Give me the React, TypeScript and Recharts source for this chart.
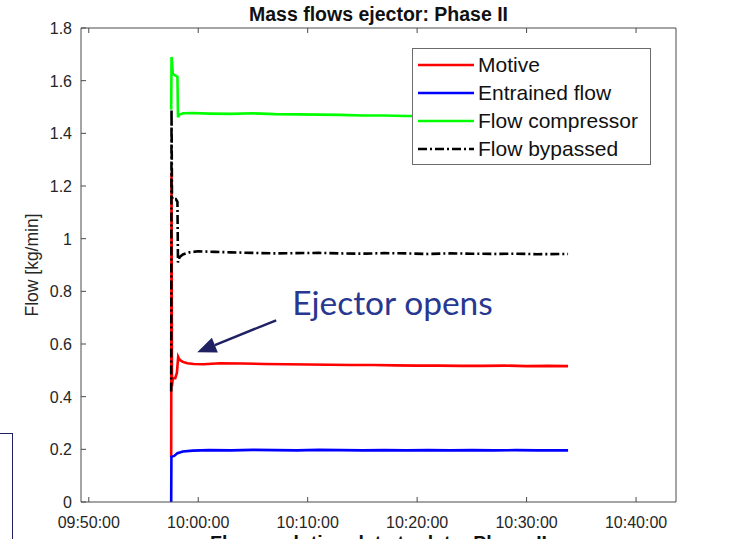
import { LineChart, Line, XAxis, YAxis, Legend, ReferenceLine } from "recharts";

// time axis is minutes after 09:50:00
const X_TICKS = [0, 10, 20, 30, 40, 50];
const Y_TICKS = [0, 0.2, 0.4, 0.6, 0.8, 1, 1.2, 1.4, 1.6, 1.8];

const motiveT = [7.53, 7.56, 7.6, 7.68, 7.9, 8.05, 8.17, 8.3, 8.6, 9.0, 9.6, 10.5, 12, 14, 16, 18, 20, 22, 24, 26, 28, 30, 32, 34, 36, 38, 40, 42, 43.79];
const motiveV = [0.17, 1.25, 0.44, 0.47, 0.47, 0.49, 0.551, 0.54, 0.532, 0.527, 0.524, 0.523, 0.527, 0.526, 0.524, 0.523, 0.522, 0.521, 0.52, 0.52, 0.519, 0.518, 0.518, 0.517, 0.517, 0.518, 0.516, 0.517, 0.516];

const entrainedT = [7.53, 7.55, 7.8, 8.1, 8.6, 9.5, 11, 13, 15, 17, 19, 21, 23, 25, 27, 29, 31, 33, 35, 37, 39, 41, 43.79];
const entrainedV = [0, 0.172, 0.175, 0.185, 0.192, 0.195, 0.197, 0.196, 0.198, 0.197, 0.196, 0.198, 0.197, 0.196, 0.197, 0.196, 0.197, 0.196, 0.197, 0.196, 0.197, 0.196, 0.196];

const compressorT = [7.53, 7.56, 7.62, 7.68, 8.1, 8.15, 8.25, 8.6, 9.5, 11, 13, 15, 17, 19, 21, 23, 25, 27, 29, 31, 33, 35, 38, 41, 43.79];
const compressorV = [1.49, 1.69, 1.66, 1.625, 1.615, 1.461, 1.47, 1.476, 1.477, 1.475, 1.474, 1.476, 1.473, 1.472, 1.471, 1.47, 1.468, 1.468, 1.466, 1.465, 1.464, 1.463, 1.462, 1.461, 1.46];

const bypassT = [7.53, 7.56, 7.6, 7.64, 7.95, 8.1, 8.15, 8.3, 8.6, 9.2, 10, 11.5, 13, 15, 17, 19, 21, 23, 25, 27, 29, 31, 33, 35, 37, 39, 41, 43.79];
const bypassV = [0.42, 1.49, 1.17, 1.15, 1.15, 1.14, 0.91, 0.93, 0.94, 0.948, 0.952, 0.95, 0.948, 0.946, 0.944, 0.945, 0.946, 0.944, 0.943, 0.945, 0.944, 0.942, 0.944, 0.943, 0.942, 0.943, 0.941, 0.942];

const zip = (t: number[], v: number[]) => t.map((x, i) => ({ t: x, v: v[i] }));

const SERIES = [
  { name: "Motive", color: "#ff0000", dash: undefined, data: zip(motiveT, motiveV) },
  { name: "Entrained flow", color: "#0000ff", dash: undefined, data: zip(entrainedT, entrainedV) },
  { name: "Flow compressor", color: "#00ff00", dash: undefined, data: zip(compressorT, compressorV) },
  { name: "Flow bypassed", color: "#000000", dash: "9 3 2 3", data: zip(bypassT, bypassV) },
];

const AXIS = "#4a4a4a";
const TEXT = "#262626";
const FONT = "'Liberation Sans', Arial, sans-serif";
const NAVY = "#1f2163";

const fmtTime = (m: number) => {
  const total = 590 + m;
  const hh = Math.floor(total / 60);
  const mm = Math.round(total % 60);
  const p = (n: number) => String(n).padStart(2, "0");
  return `${p(hh)}:${p(mm)}:00`;
};

const BottomTick = ({ x, y, payload }: any) => {
  const ay = y - 14;
  return (
    <g>
      <line x1={x} x2={x} y1={ay} y2={ay - 5} stroke={AXIS} />
      <text x={x} y={ay + 26} textAnchor="middle" fontSize={16} fill={TEXT} fontFamily={FONT}>
        {fmtTime(payload.value)}
      </text>
    </g>
  );
};

const TopTick = ({ x, y }: any) => {
  const ay = y + 4;
  return <line x1={x} x2={x} y1={ay} y2={ay + 5} stroke={AXIS} />;
};

const LeftTick = ({ x, y, payload }: any) => {
  const ax = x + 9;
  return (
    <g>
      <line x1={ax} x2={ax + 5} y1={y} y2={y} stroke={AXIS} />
      <text x={ax - 9} y={y + 6} textAnchor="end" fontSize={16} fill={TEXT} fontFamily={FONT}>
        {payload.value}
      </text>
    </g>
  );
};

const RightTick = ({ x, y }: any) => {
  const ax = x - 4;
  return <line x1={ax} x2={ax - 5} y1={y} y2={y} stroke={AXIS} />;
};

// arrow from the annotation text down to the motive-flow overshoot
const ArrowShape = ({ x1, y1, x2, y2 }: any) => {
  const dx = x2 - x1;
  const dy = y2 - y1;
  const len = Math.hypot(dx, dy);
  const ux = dx / len;
  const uy = dy / len;
  const head = 19;
  const half = 8;
  const bx = x2 - ux * head;
  const by = y2 - uy * head;
  return (
    <g>
      <line x1={x1} y1={y1} x2={bx} y2={by} stroke={NAVY} strokeWidth={2.5} />
      <polygon
        points={`${x2},${y2} ${bx - uy * half},${by + ux * half} ${bx + uy * half},${by - ux * half}`}
        fill={NAVY}
      />
      <text x={x1 + 16} y={y1 - 5} fontSize={33.5} fill="#283790" fontFamily="Lato, 'Open Sans', sans-serif">
        Ejector opens
      </text>
    </g>
  );
};

const LegendBox = () => (
  <div
    style={{
      width: 237,
      height: 115,
      border: "1px solid #6b6b6b",
      background: "#fff",
      fontFamily: FONT,
      fontSize: 21,
      color: "#111",
      boxSizing: "content-box",
    }}
  >
    {SERIES.map((s) => (
      <div key={s.name} style={{ position: "relative", height: 28, top: 2 }}>
        <svg width={60} height={28} style={{ position: "absolute", left: 3, top: 0 }}>
          <line x1={2} x2={58} y1={14} y2={14} stroke={s.color} strokeWidth={2.6} strokeDasharray={s.dash} />
        </svg>
        <span style={{ position: "absolute", left: 65, top: 1, whiteSpace: "nowrap", lineHeight: "26px" }}>
          {s.name}
        </span>
      </div>
    ))}
  </div>
);

export default function App() {
  return (
    <div style={{ position: "absolute", left: 0, top: 0, width: 729, height: 539, background: "#fff", overflow: "hidden" }}>
      <div
        style={{
          position: "absolute",
          left: 81,
          width: 595,
          top: 3,
          textAlign: "center",
          fontFamily: FONT,
          fontWeight: "bold",
          fontSize: 19.5,
          color: "#111",
        }}
      >
        Mass flows ejector: Phase II
      </div>
      <LineChart width={729} height={539} margin={{ top: 0, right: 0, bottom: 0, left: 0 }}>
        <XAxis
          dataKey="t"
          type="number"
          domain={[-0.71, 53.65]}
          ticks={X_TICKS}
          interval={0}
          allowDataOverflow
          height={37}
          tickSize={0}
          tickMargin={14}
          tickLine={false}
          axisLine={{ stroke: AXIS }}
          tick={<BottomTick />}
          label={{
            value: "Flow evolution data to date: Phase II",
            position: "insideBottom",
            offset: -11,
            fontFamily: FONT,
            fontWeight: "bold",
            fontSize: 19.5,
            fill: "#111",
          }}
        />
        <XAxis
          xAxisId="top"
          orientation="top"
          dataKey="t"
          type="number"
          domain={[-0.71, 53.65]}
          ticks={X_TICKS}
          interval={0}
          allowDataOverflow
          height={28}
          tickSize={0}
          tickMargin={4}
          tickLine={false}
          axisLine={{ stroke: AXIS }}
          tick={<TopTick />}
        />
        <YAxis
          type="number"
          domain={[0, 1.8]}
          ticks={Y_TICKS}
          interval={0}
          width={81}
          tickSize={0}
          tickMargin={9}
          tickLine={false}
          axisLine={{ stroke: AXIS }}
          tick={<LeftTick />}
          label={{
            value: "Flow [kg/min]",
            angle: -90,
            position: "insideLeft",
            offset: 32,
            style: { textAnchor: "middle" },
            fontFamily: FONT,
            fontSize: 17.5,
            fill: TEXT,
          }}
        />
        <YAxis
          yAxisId="right"
          orientation="right"
          type="number"
          domain={[0, 1.8]}
          ticks={Y_TICKS}
          interval={0}
          width={53}
          tickSize={0}
          tickMargin={4}
          tickLine={false}
          axisLine={{ stroke: AXIS }}
          tick={<RightTick />}
        />
        {SERIES.map((s) => (
          <Line
            key={s.name}
            data={s.data}
            dataKey="v"
            name={s.name}
            type="linear"
            stroke={s.color}
            strokeWidth={2.6}
            strokeDasharray={s.dash}
            dot={false}
            isAnimationActive={false}
          />
        ))}
        <ReferenceLine
          segment={[
            { x: 17.12, y: 0.69 },
            { x: 9.91, y: 0.569 },
          ]}
          shape={<ArrowShape />}
        />
        <Legend
          layout="vertical"
          align="center"
          verticalAlign="middle"
          content={() => <LegendBox />}
          wrapperStyle={{ left: 412, top: 48, width: "auto", height: "auto" }}
        />
      </LineChart>
      <div
        style={{
          position: "absolute",
          left: -50,
          top: 433,
          width: 61,
          height: 106,
          border: `1.5px solid ${NAVY}`,
          borderBottom: "none",
        }}
      />
    </div>
  );
}
